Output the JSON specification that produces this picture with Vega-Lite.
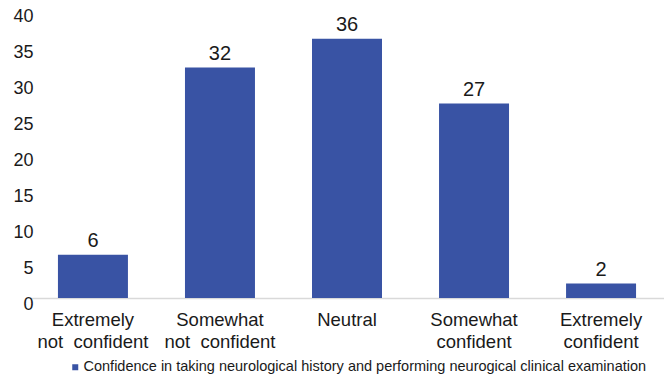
{
  "$schema": "https://vega.github.io/schema/vega-lite/v6.json",
  "autosize": "none",
  "padding": {"left": 30, "top": 10, "right": 0, "bottom": 82},
  "width": 634,
  "height": 288,
  "background": "white",
  "data": {"values": [
    {"category": "Extremely|not\u00a0\u00a0confident", "value": 6, "series": "Confidence in taking neurological history and performing neurogical clinical examination"},
    {"category": "Somewhat|not\u00a0\u00a0confident", "value": 32, "series": "Confidence in taking neurological history and performing neurogical clinical examination"},
    {"category": "Neutral", "value": 36, "series": "Confidence in taking neurological history and performing neurogical clinical examination"},
    {"category": "Somewhat|confident", "value": 27, "series": "Confidence in taking neurological history and performing neurogical clinical examination"},
    {"category": "Extremely|confident", "value": 2, "series": "Confidence in taking neurological history and performing neurogical clinical examination"}
  ]},
  "config": {"view": {"stroke": null}, "font": "Liberation Sans"},
  "encoding": {
    "x": {"field": "category", "type": "nominal", "sort": null,
      "scale": {"paddingInner": 0.449, "paddingOuter": 0.22},
      "axis": {"title": null, "labelAngle": 0, "labelExpr": "split(datum.label, '|')", "labelFontSize": 18.5, "labelColor": "#1a1a1a", "labelPadding": 12, "labelLineHeight": 22, "ticks": false, "domainColor": "#d9d9d9", "domainWidth": 1.5}},
    "y": {"field": "value", "type": "quantitative",
      "scale": {"domain": [0, 40]},
      "axis": {"title": null, "values": [0,5,10,15,20,25,30,35,40], "grid": false, "domain": false, "ticks": false, "labelFontSize": 18, "labelColor": "#1a1a1a", "labelPadding": -3, "labelOffset": 6}}
  },
  "layer": [
    {"mark": {"type": "bar"},
     "encoding": {"color": {"field": "series", "type": "nominal", "scale": {"range": ["#3953A4"]},
       "legend": {"title": null, "orient": "none", "legendX": 38, "legendY": 350, "symbolType": "square", "symbolSize": 36, "labelFontSize": 14.5, "labelColor": "#1a1a1a", "labelLimit": 700, "labelOffset": 1, "symbolOffset": 0}}}},
    {"mark": {"type": "text", "dy": -14, "fontSize": 20, "color": "#1a1a1a"},
     "encoding": {"text": {"field": "value", "type": "quantitative"}}}
  ]
}
